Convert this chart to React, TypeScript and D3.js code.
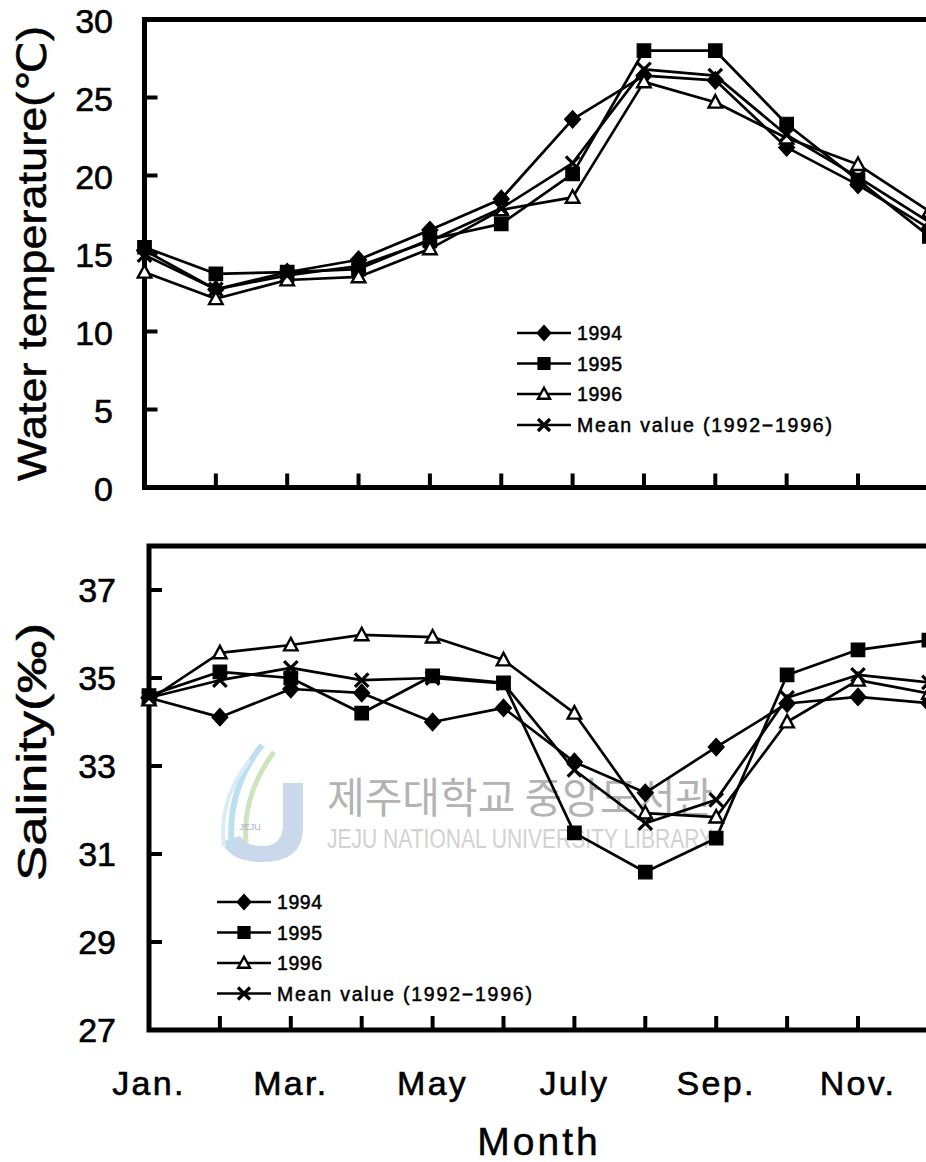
import React from "react";
import * as d3 from "d3";

// ---------- data ----------
const months = ["Jan.", "Feb.", "Mar.", "Apr.", "May", "Jun.", "July", "Aug.", "Sep.", "Oct.", "Nov.", "Dec."];
const xLabelMonths = ["Jan.", "Mar.", "May", "July", "Sep.", "Nov."];

const seriesNames = ["1994", "1995", "1996", "Mean value (1992\u22121996)"];
const seriesMarkers = ["diamond", "square", "triangle", "x"];

const tempTicks = [0, 5, 10, 15, 20, 25, 30];
const salTicks = [27, 29, 31, 33, 35, 37];

const temp1994 = [15.2, 12.7, 13.8, 14.6, 16.5, 18.5, 23.6, 26.4, 26.1, 21.8, 19.4, 16.6];
const temp1995 = [15.4, 13.7, 13.8, 14.0, 15.9, 16.9, 20.1, 28.0, 28.0, 23.3, 19.7, 16.1];
const temp1996 = [13.8, 12.1, 13.3, 13.5, 15.3, 17.8, 18.6, 26.0, 24.7, 22.4, 20.7, 17.7];
const tempMean = [14.9, 12.7, 13.6, 14.2, 15.8, 17.9, 20.8, 26.8, 26.4, 22.6, 19.9, 17.0];

const sal1994 = [34.55, 34.11, 34.75, 34.66, 34.0, 34.32, 33.09, 32.39, 33.43, 34.42, 34.57, 34.43];
const sal1995 = [34.6, 35.14, 35.0, 34.2, 35.05, 34.89, 31.48, 30.59, 31.36, 35.07, 35.64, 35.86];
const sal1996 = [34.5, 35.57, 35.75, 35.98, 35.93, 35.41, 34.2, 31.93, 31.84, 34.0, 34.95, 34.65];
const salMean = [34.55, 34.95, 35.23, 34.95, 35.0, 34.88, 32.91, 31.7, 32.23, 34.55, 35.07, 34.9];

const watermarkKo = "제주대학교 중앙도서관";
const watermarkEn = "JEJU NATIONAL UNIVERSITY LIBRARY";

// ---------- layout ----------
const W = 926;
const H = 1162;
const FONT = "'Liberation Sans', Arial, 'DejaVu Sans', sans-serif";

function markerPath(kind: string, s: number): string {
  const h = s / 2;
  switch (kind) {
    case "diamond":
      return `M0,${-h * 1.1}L${h},0L0,${h * 1.1}L${-h},0Z`;
    case "square":
      return `M${-h},${-h}H${h}V${h}H${-h}Z`;
    case "triangle":
      return `M0,${-h * 1.05}L${h},${h * 0.8}L${-h},${h * 0.8}Z`;
    default:
      return `M${-h},${-h}L${h},${h}M${h},${-h}L${-h},${h}`;
  }
}

function Marker({ kind, x, y, s }: { kind: string; x: number; y: number; s: number }) {
  const d = markerPath(kind, s);
  if (kind === "triangle")
    return <path d={d} transform={`translate(${x},${y})`} fill="#fff" stroke="#000" strokeWidth={2.4} strokeLinejoin="miter" />;
  if (kind === "x")
    return <path d={d} transform={`translate(${x},${y})`} fill="none" stroke="#000" strokeWidth={3.2} />;
  return <path d={d} transform={`translate(${x},${y})`} fill="#000" stroke="#000" strokeWidth={1.2} />;
}

type PanelCfg = {
  x: d3.ScaleLinear<number, number>;
  y: d3.ScaleLinear<number, number>;
  series: number[][];
  ticks: number[];
  labelX: number;
  labelDy: number;
  legendX: number;
  legendRows: number[];
  key: string;
};

function renderPanel(c: PanelCfg) {
  const [y0v, y1v] = c.y.domain();
  const xl = c.x(0);
  const yb = c.y(y0v);
  const yt = c.y(y1v);
  const line = d3
    .line<number>()
    .x((_, i) => c.x(i))
    .y((d) => c.y(d));
  const textLens = [45, 45, 45, 255];
  return (
    <g key={c.key}>
      {/* frame */}
      <path d={`M${W + 60},${yt}H${xl}V${yb}H${W + 60}`} fill="none" stroke="#000" strokeWidth={5} />
      {/* y ticks */}
      {c.ticks
        .filter((t) => t !== y0v && t !== y1v)
        .map((t) => (
          <line key={`yt${t}`} x1={xl} x2={xl + 13} y1={c.y(t)} y2={c.y(t)} stroke="#000" strokeWidth={4} />
        ))}
      {c.ticks.map((t) => (
        <text
          key={`yl${t}`}
          x={c.labelX}
          y={c.y(t) + c.labelDy}
          textAnchor="end"
          fontFamily={FONT}
          fontSize={34}
          fill="#000"
          stroke="#000"
          strokeWidth={0.6}
        >
          {t}
        </text>
      ))}
      {/* x ticks */}
      {months.map((m, i) =>
        i === 0 ? null : <line key={`xt${m}`} x1={c.x(i)} x2={c.x(i)} y1={yb} y2={yb - 14} stroke="#000" strokeWidth={4} />
      )}
      {/* lines */}
      {c.series.map((s, k) => (
        <path key={`ln${k}`} d={line(s) || ""} fill="none" stroke="#000" strokeWidth={2.7} strokeLinejoin="round" />
      ))}
      {/* markers */}
      {c.series.map((s, k) =>
        s.map((v, i) => (
          <Marker key={`mk${k}-${i}`} kind={seriesMarkers[k]} x={c.x(i)} y={c.y(v)} s={seriesMarkers[k] === "diamond" ? 16 : 13.5} />
        ))
      )}
      {/* legend */}
      {seriesNames.map((n, k) => {
        const ry = c.legendRows[k];
        return (
          <g key={`lg${k}`}>
            <line x1={c.legendX} x2={c.legendX + 54} y1={ry} y2={ry} stroke="#000" strokeWidth={2.6} />
            <Marker kind={seriesMarkers[k]} x={c.legendX + 27} y={ry} s={seriesMarkers[k] === "diamond" ? 14 : 12} />
            <text
              x={c.legendX + 60}
              y={ry + 7}
              fontFamily={FONT}
              fontSize={19.5}
              fill="#000"
              stroke="#000"
              strokeWidth={0.5}
              textLength={textLens[k]}
              lengthAdjust="spacing"
            >
              {n}
            </text>
          </g>
        );
      })}
    </g>
  );
}

export default function App() {
  const xTop = d3.scaleLinear().domain([0, 10]).range([144.5, 858]);
  const yTop = d3.scaleLinear().domain([0, 30]).range([487.5, 19.5]);
  const xBot = d3.scaleLinear().domain([0, 10]).range([149, 858]);
  const yBot = d3.scaleLinear().domain([27, 38]).range([1030, 546]);

  return (
    <svg
      width={W}
      height={H}
      viewBox={`0 0 ${W} ${H}`}
      style={{ position: "absolute", left: 0, top: 0, background: "#fff", display: "block" }}
    >
      <rect x={0} y={0} width={W} height={H} fill="#fff" />

      {/* watermark */}
      <g opacity={0.75}>
        <path d="M283,783 H303 V828 Q303,862 262,862 Q230,862 222,842 L240,836 Q246,846 262,846 Q283,846 283,824 Z" fill="#b9cbe6" />
        <path d="M262,745 Q226,790 232,850" fill="none" stroke="#a6d6ec" strokeWidth={6} />
        <path d="M274,752 Q242,795 246,842" fill="none" stroke="#bddca6" strokeWidth={5} />
        <path d="M250,760 Q218,800 224,846" fill="none" stroke="#cfe6f3" strokeWidth={4} />
        <text x={250} y={830} fontFamily={FONT} fontSize={9} fill="#8a9ab0" textAnchor="middle">JEJU</text>
      </g>
      <text
        x={327}
        y={813}
        fontFamily="'Noto Sans CJK KR', sans-serif"
        fontSize={42}
        fill="#b3b3b3"
        textLength={386}
        lengthAdjust="spacingAndGlyphs"
      >
        {watermarkKo}
      </text>
      <text
        x={327}
        y={848}
        fontFamily={FONT}
        fontSize={27}
        fill="#d2d2d2"
        textLength={386}
        lengthAdjust="spacingAndGlyphs"
      >
        {watermarkEn}
      </text>

      {renderPanel({
        key: "top",
        x: xTop,
        y: yTop,
        series: [temp1994, temp1995, temp1996, tempMean],
        ticks: tempTicks,
        labelX: 113,
        labelDy: 13.5,
        legendX: 517,
        legendRows: [333, 363.5, 394, 425],
      })}
      {renderPanel({
        key: "bot",
        x: xBot,
        y: yBot,
        series: [sal1994, sal1995, sal1996, salMean],
        ticks: salTicks,
        labelX: 116,
        labelDy: 12,
        legendX: 217,
        legendRows: [902, 932.5, 963, 993.5],
      })}

      {/* x labels */}
      {xLabelMonths.map((m) => (
        <text
          key={m}
          x={xBot(months.indexOf(m))}
          y={1095}
          textAnchor="middle"
          fontFamily={FONT}
          fontSize={34}
          letterSpacing={2.3}
          fill="#000"
          stroke="#000"
          strokeWidth={0.6}
        >
          {m}
        </text>
      ))}
      <text
        x={539}
        y={1155}
        textAnchor="middle"
        fontFamily={FONT}
        fontSize={39}
        letterSpacing={3}
        fill="#000"
        stroke="#000"
        strokeWidth={0.5}
      >
        Month
      </text>

      {/* y titles */}
      <text
        transform={`translate(46,${(yTop(0) + yTop(30)) / 2}) rotate(-90)`}
        textAnchor="middle"
        fontFamily={FONT}
        fontSize={40}
        fill="#000"
        stroke="#000"
        strokeWidth={0.5}
        textLength={455}
        lengthAdjust="spacingAndGlyphs"
      >
        Water temperature(℃)
      </text>
      <text
        transform={`translate(46,752) rotate(-90)`}
        textAnchor="middle"
        fontFamily={FONT}
        fontSize={40}
        fill="#000"
        stroke="#000"
        strokeWidth={0.5}
        textLength={258}
        lengthAdjust="spacingAndGlyphs"
      >
        Salinity(‰)
      </text>
    </svg>
  );
}
